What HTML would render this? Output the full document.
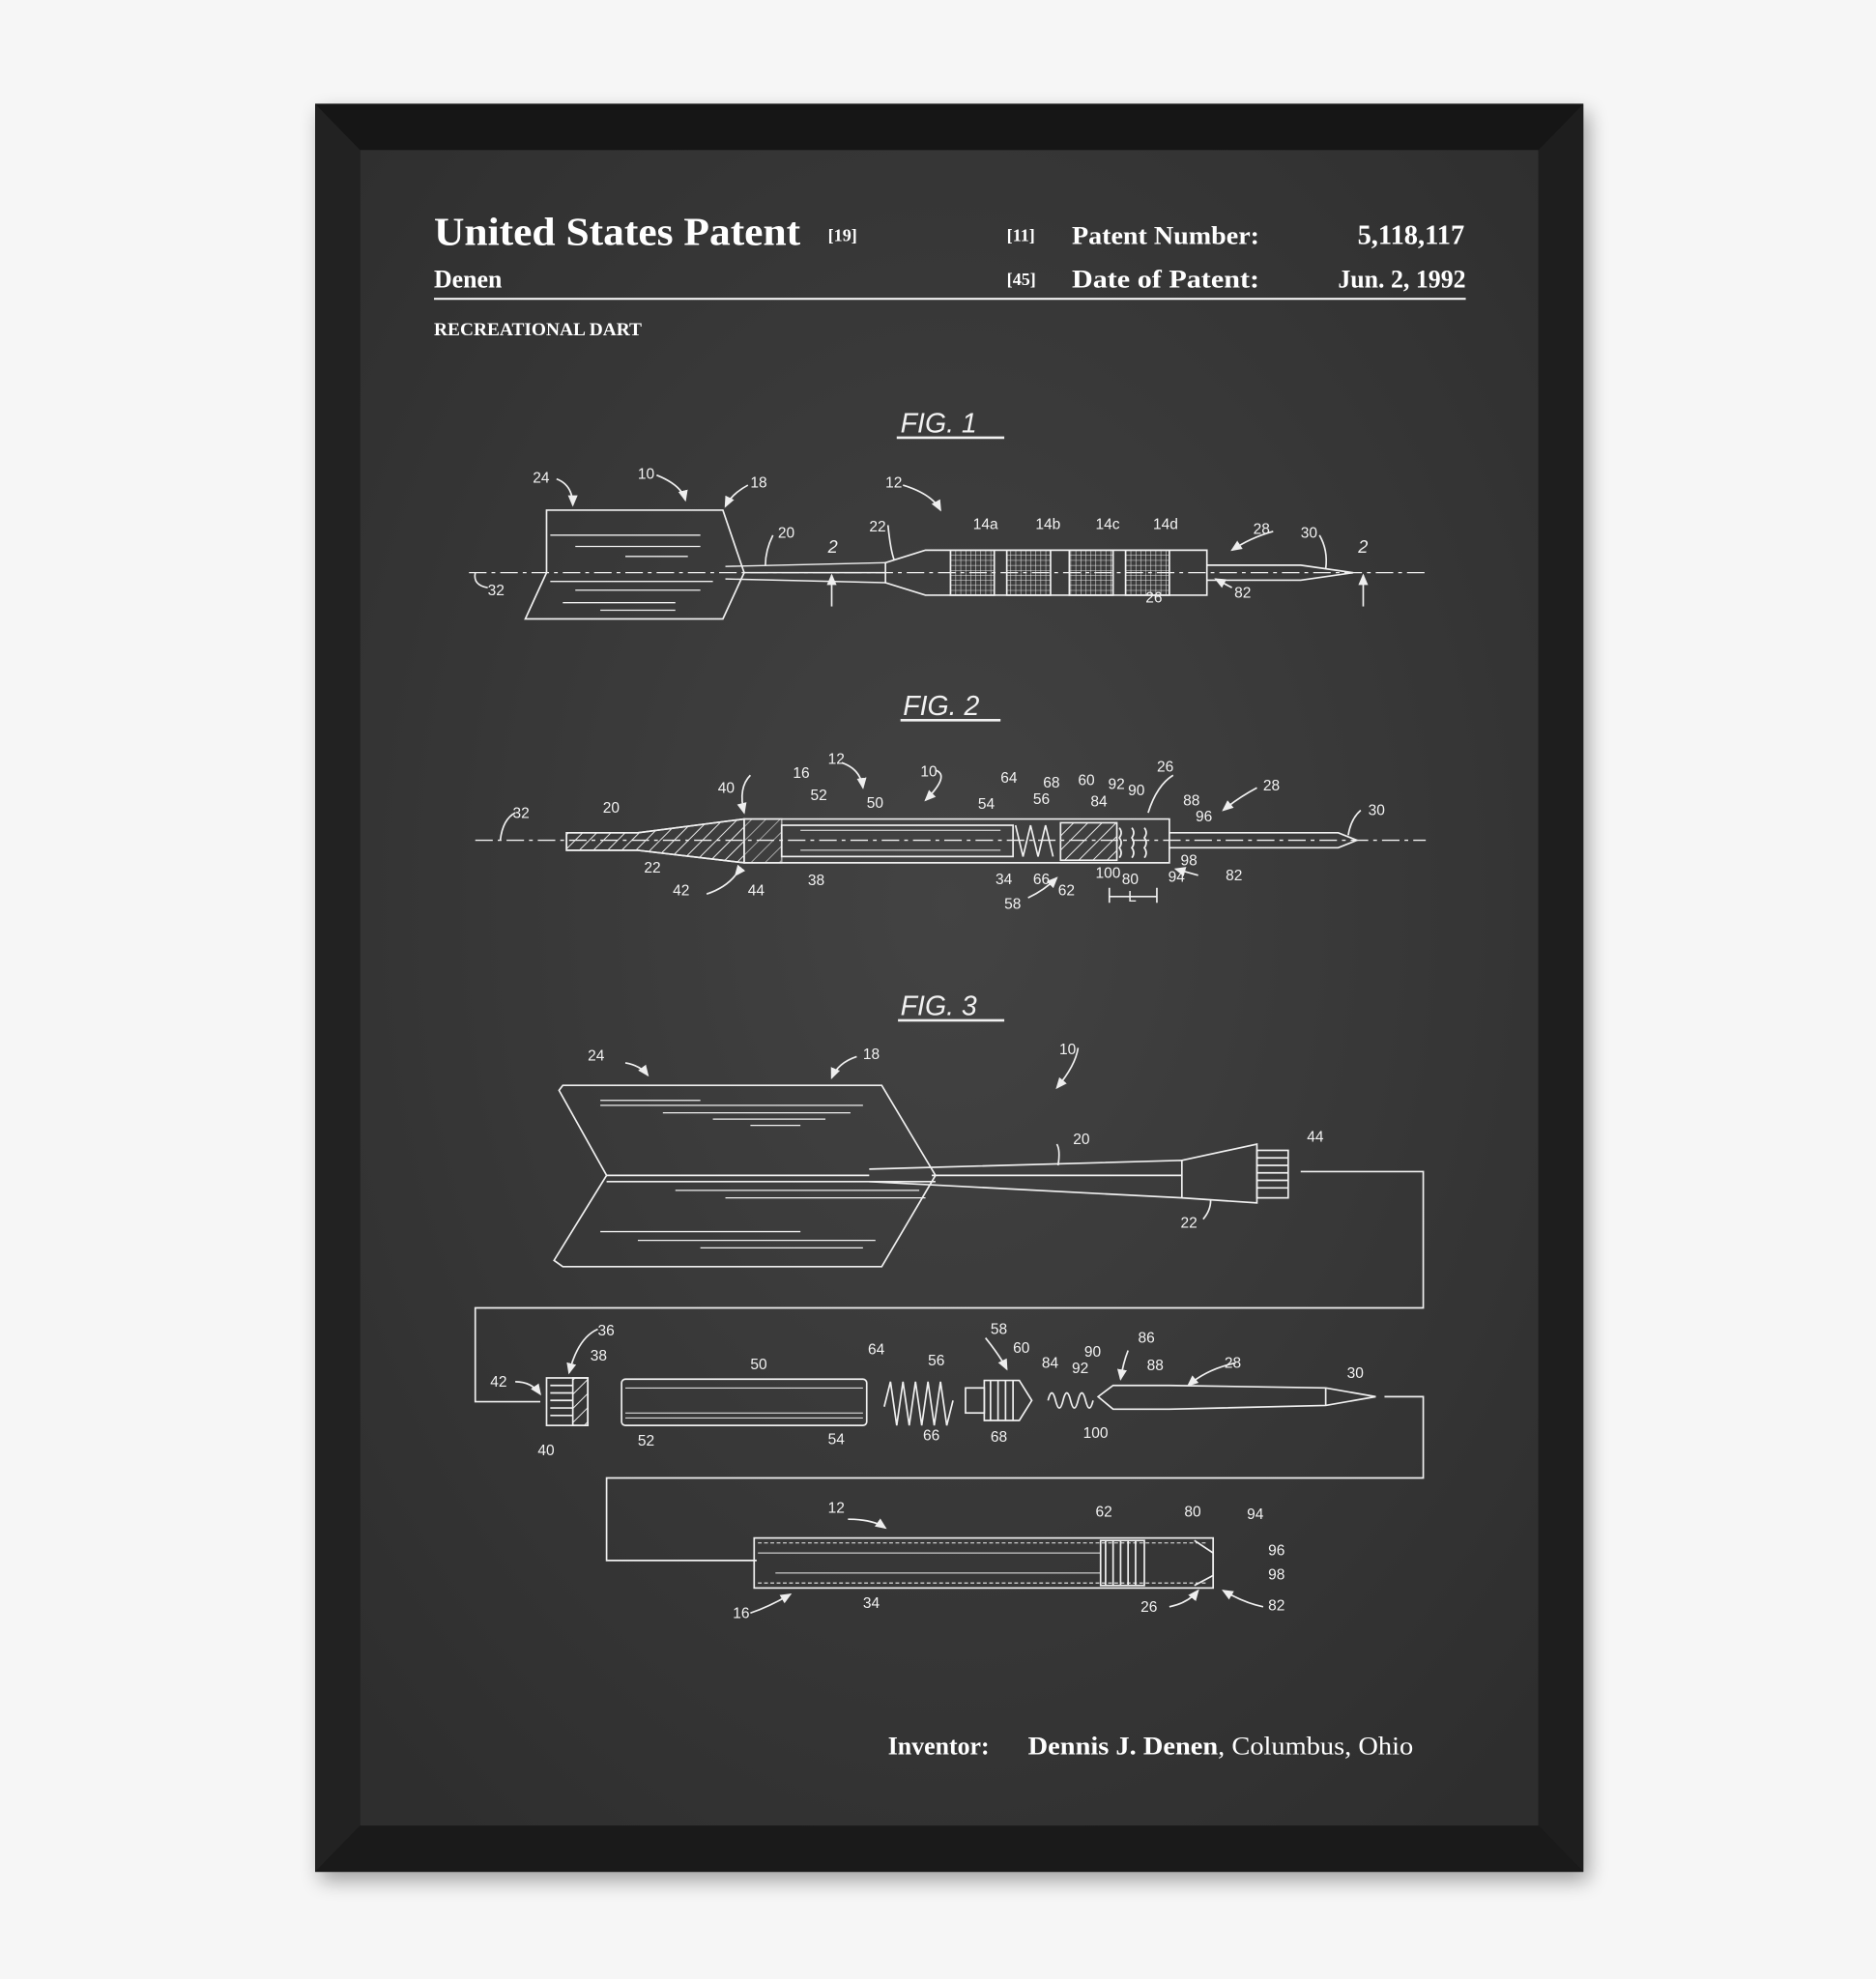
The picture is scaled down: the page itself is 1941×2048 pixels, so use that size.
<!DOCTYPE html>
<html><head><meta charset="utf-8"><style>
html,body{margin:0;padding:0;background:#f6f6f6;}
svg{display:block}
.t{font-family:"Liberation Serif",serif;fill:#fff;font-weight:bold}
.l{font-family:"Liberation Sans",sans-serif;fill:#f2f2f2;font-size:12px}
.f{font-family:"Liberation Sans",sans-serif;fill:#f2f2f2;font-size:22px;font-style:italic}
</style></head><body>
<svg width="1941" height="2048" viewBox="0 0 1500 1582.7" xmlns="http://www.w3.org/2000/svg">
<defs>
<radialGradient id="bg" cx="50%" cy="45%" r="70%"><stop offset="0" stop-color="#434343"/><stop offset="1" stop-color="#2e2e2e"/></radialGradient>
<filter id="sh" x="-10%" y="-10%" width="120%" height="120%"><feGaussianBlur stdDeviation="8"/></filter>
<marker id="ah" markerWidth="8" markerHeight="8" refX="6" refY="4" orient="auto"><path d="M0,1 L7,4 L0,7 Z" fill="#eee"/></marker>
<pattern id="hatch" width="8" height="8" patternUnits="userSpaceOnUse" patternTransform="rotate(45)"><line x1="0" y1="0" x2="0" y2="8" stroke="#eee" stroke-width="1.5"/></pattern>
<pattern id="grid" width="4" height="4" patternUnits="userSpaceOnUse"><path d="M0,0H4M0,0V4" stroke="#eee" stroke-width="0.8" fill="none"/></pattern>
</defs>
<rect x="0" y="0" width="1500" height="1583" fill="#f6f6f6"/>
<rect x="256" y="90" width="1014" height="1414" fill="#000" opacity="0.35" filter="url(#sh)"/>
<rect x="252" y="83" width="1014" height="1414" fill="#141414"/>
<polygon points="252,83 288,120 288,1460 252,1497" fill="#222"/>
<polygon points="1266,83 1230,120 1230,1460 1266,1497" fill="#1e1e1e"/>
<polygon points="252,83 1266,83 1230,120 288,120" fill="#161616"/>
<polygon points="252,1497 1266,1497 1230,1460 288,1460" fill="#1a1a1a"/>
<rect x="288" y="120" width="942" height="1340" fill="url(#bg)"/>

<text class="t" x="347" y="196" font-size="32" textLength="293" lengthAdjust="spacingAndGlyphs">United States Patent</text>
<text class="t" x="662" y="193" font-size="14" font-weight="normal">[19]</text>
<text class="t" x="805" y="193" font-size="14" font-weight="normal">[11]</text>
<text class="t" x="857" y="195" font-size="20" textLength="150" lengthAdjust="spacingAndGlyphs">Patent Number:</text>
<text class="t" x="1171" y="195" font-size="22" text-anchor="end">5,118,117</text>
<text class="t" x="347" y="230" font-size="20">Denen</text>
<text class="t" x="805" y="228" font-size="14" font-weight="normal">[45]</text>
<text class="t" x="857" y="230" font-size="20" textLength="150" lengthAdjust="spacingAndGlyphs">Date of Patent:</text>
<text class="t" x="1172" y="230" font-size="20" text-anchor="end">Jun. 2, 1992</text>
<line x1="347" y1="239" x2="1172" y2="239" stroke="#fff" stroke-width="1.6"/>
<text class="t" x="347" y="268" font-size="15">RECREATIONAL DART</text>

<g stroke="#f0f0f0" fill="none" stroke-width="1.3">
<line x1="717" y1="350" x2="803" y2="350" stroke-width="2"/>
<line x1="375" y1="458" x2="1140" y2="458" stroke-dasharray="14,4,3,4" stroke-width="1"/>
<polygon points="437,408 578,408 595,458 578,495 420,495 437,458"/>
<path d="M440,428H560M460,437H560M500,445H550M440,465H570M460,472H560M450,482H540M480,488H540" stroke-width="1"/>
<path d="M580,453 L708,450 M580,463 L708,466 M595,458H708" stroke-width="1.1"/>
<path d="M708,450 L740,440 H965 V476 H740 L708,466 Z"/>
<rect x="760" y="440" width="35" height="36" fill="url(#grid)"/>
<rect x="805" y="440" width="35" height="36" fill="url(#grid)"/>
<rect x="855" y="440" width="35" height="36" fill="url(#grid)"/>
<rect x="900" y="440" width="35" height="36" fill="url(#grid)"/>
<path d="M965,452 H1040 L1082,458 L1040,464 H965"/>
<line x1="665" y1="485" x2="665" y2="460" marker-end="url(#ah)"/>
<line x1="1090" y1="485" x2="1090" y2="460" marker-end="url(#ah)"/>
<path d="M445,383 Q458,388 458,404" marker-end="url(#ah)"/>
<path d="M525,380 Q545,388 548,400" marker-end="url(#ah)"/>
<path d="M598,388 Q585,395 580,405" marker-end="url(#ah)"/>
<path d="M722,388 Q745,395 752,408" marker-end="url(#ah)"/>
<path d="M710,420 Q712,440 715,448"/>
<path d="M1018,425 Q1000,430 985,440" marker-end="url(#ah)"/>
<path d="M1055,428 Q1062,440 1060,455"/>
<path d="M985,470 L972,463" marker-end="url(#ah)"/>
<path d="M618,428 Q612,440 612,452"/>
<path d="M380,458 Q378,468 390,470"/>
<line x1="720" y1="576" x2="800" y2="576" stroke-width="2"/>
<line x1="380" y1="672" x2="1140" y2="672" stroke-dasharray="14,4,3,4" stroke-width="1"/>
<path d="M453,666 H510 L595,655 H935 V690 H595 L510,680 H453 Z" />
<path d="M453,666 H510 L595,655 V690 L510,680 H453 Z" fill="url(#hatch)"/>
<rect x="595" y="655" width="30" height="35" fill="url(#hatch)" opacity="0.6"/>
<rect x="625" y="660" width="185" height="25"/>
<path d="M640,664H800M640,680H800" stroke-width="0.8"/>
<path d="M812,660 l6,25 l6,-25 l6,25 l6,-25 l6,25" />
<rect x="848" y="658" width="45" height="30" fill="url(#hatch)"/>
<path d="M895,662 q3,4 0,8 q3,4 0,8 q3,4 0,8 M905,662 q3,4 0,8 q3,4 0,8 q3,4 0,8 M915,662 q3,4 0,8 q3,4 0,8 q3,4 0,8"/>
<path d="M935,666 H1070 L1085,672 L1070,678 H935"/>
<path d="M600,620 Q590,630 595,650" marker-end="url(#ah)"/>
<path d="M673,610 Q688,615 690,630" marker-end="url(#ah)"/>
<path d="M748,616 Q760,620 740,640" marker-end="url(#ah)"/>
<path d="M1005,630 Q990,638 978,648" marker-end="url(#ah)"/>
<path d="M1088,648 Q1080,655 1078,668"/>
<path d="M588,700 Q580,710 565,715" marker-start="url(#ah)"/>
<path d="M938,620 Q925,628 918,650"/>
<path d="M958,700 L940,695" marker-end="url(#ah)"/>
<path d="M822,718 Q835,712 845,702" marker-end="url(#ah)"/>
<path d="M887,717 H925 M887,710 V722 M925,710 V722"/>
<path d="M412,650 Q402,655 400,672"/>
<line x1="718" y1="816" x2="803" y2="816" stroke-width="2"/>
<polygon points="450,868 705,868 748,940 705,1013 450,1013 443,1008 485,940 447,872"/>
<path d="M480,880H560M480,884H690M530,890H680M570,895H660M600,900H640M490,945H720M540,952H735M580,958H740M480,985H640M510,992H700M560,998H690" stroke-width="1"/>
<path d="M485,940 H695 M485,945 L748,945"/>
<path d="M695,935 L945,928 V958 L695,945 M745,940 H945"/>
<path d="M945,928 L1005,915 V962 L945,958"/>
<rect x="1005" y="920" width="25" height="38"/>
<path d="M1005,926H1030M1005,932H1030M1005,938H1030M1005,944H1030M1005,950H1030"/>
<path d="M1040,937 H1138 V1046 H380 V1121 H432"/>
<path d="M1107,1117 H1138 V1182 H485 V1248 H605"/>
<rect x="437" y="1102" width="33" height="38"/>
<rect x="458" y="1102" width="12" height="38" fill="url(#hatch)"/>
<path d="M440,1108H458M440,1114H458M440,1120H458M440,1126H458M440,1132H458"/>
<rect x="497" y="1103" width="196" height="37" rx="3"/>
<path d="M500,1110H690M500,1130H690M500,1134H690" stroke-width="0.8"/>
<path d="M707,1125 l5,-20 l5,35 l5,-35 l5,35 l5,-35 l5,35 l5,-35 l5,35 l5,-35 l5,35 l5,-20"/>
<rect x="772" y="1110" width="15" height="20"/>
<path d="M787,1104 H815 L825,1120 L815,1136 H787 Z"/>
<path d="M792,1104V1136M798,1104V1136M804,1104V1136M810,1104V1136"/>
<path d="M838,1120 q3,-12 6,0 q3,12 6,0 q3,-12 6,0 q3,12 6,0 q3,-12 6,0 q3,12 6,0"/>
<path d="M878,1117 L890,1108 H935 L1060,1110 L1100,1117 L1060,1124 L935,1127 H890 Z"/>
<path d="M1060,1110V1124"/>
<rect x="603" y="1230" width="367" height="40"/>
<path d="M606,1234H965M606,1266H965" stroke-dasharray="3,2" stroke-width="0.8"/>
<path d="M606,1242H880M620,1258H880" stroke-width="0.8"/>
<rect x="880" y="1232" width="35" height="36" />
<path d="M884,1232V1268M890,1232V1268M896,1232V1268M902,1232V1268M908,1232V1268"/>
<path d="M955,1232 L970,1242 V1260 L955,1268"/>
<path d="M500,850 Q512,852 518,860" marker-end="url(#ah)"/>
<path d="M685,845 Q670,850 665,862" marker-end="url(#ah)"/>
<path d="M862,838 Q860,852 845,870" marker-end="url(#ah)"/>
<path d="M845,915 Q848,920 846,932"/>
<path d="M962,975 Q968,968 968,960"/>
<path d="M478,1063 Q462,1070 455,1098" marker-end="url(#ah)"/>
<path d="M412,1105 Q425,1105 432,1115" marker-end="url(#ah)"/>
<path d="M988,1090 Q965,1095 950,1108" marker-end="url(#ah)"/>
<path d="M678,1215 Q698,1215 708,1222" marker-end="url(#ah)"/>
<path d="M600,1290 Q615,1285 632,1275" marker-end="url(#ah)"/>
<path d="M935,1285 Q950,1282 958,1272" marker-end="url(#ah)"/>
<path d="M1010,1285 Q995,1282 978,1272" marker-end="url(#ah)"/>
<path d="M902,1080 Q898,1090 896,1103" marker-end="url(#ah)"/>
<path d="M788,1070 Q800,1085 805,1095" marker-end="url(#ah)"/>
</g>
<g class="l">
<text class="f" x="720" y="346">FIG. 1</text>
<text class="f" x="722" y="572">FIG. 2</text>
<text class="f" x="720" y="812">FIG. 3</text>
<text x="426" y="386">24</text><text x="510" y="383">10</text><text x="600" y="390">18</text>
<text x="622" y="430">20</text><text x="662" y="442" font-size="14" font-style="italic">2</text>
<text x="708" y="390">12</text><text x="695" y="425">22</text>
<text x="778" y="423">14a</text><text x="828" y="423">14b</text><text x="876" y="423">14c</text><text x="922" y="423">14d</text>
<text x="1002" y="427">28</text><text x="1040" y="430">30</text><text x="1086" y="442" font-size="14" font-style="italic">2</text>
<text x="390" y="476">32</text><text x="916" y="482">26</text><text x="987" y="478">82</text>
<text x="410" y="654">32</text><text x="482" y="650">20</text><text x="574" y="634">40</text><text x="634" y="622">16</text>
<text x="648" y="640">52</text><text x="662" y="611">12</text><text x="693" y="646">50</text><text x="736" y="621">10</text>
<text x="782" y="647">54</text><text x="800" y="626">64</text><text x="826" y="643">56</text><text x="834" y="630">68</text>
<text x="862" y="628">60</text><text x="872" y="645">84</text><text x="886" y="631">92</text><text x="925" y="617">26</text>
<text x="902" y="636">90</text><text x="946" y="644">88</text><text x="956" y="657">96</text><text x="1010" y="632">28</text>
<text x="1094" y="652">30</text><text x="515" y="698">22</text><text x="538" y="716">42</text><text x="598" y="716">44</text>
<text x="646" y="708">38</text><text x="796" y="707">34</text><text x="826" y="707">66</text><text x="876" y="702">100</text>
<text x="897" y="707">80</text><text x="934" y="705">94</text><text x="944" y="692">98</text><text x="980" y="704">82</text>
<text x="846" y="716">62</text><text x="803" y="727">58</text><text x="902" y="721">L</text>
<text x="470" y="848">24</text><text x="690" y="847">18</text><text x="847" y="843">10</text><text x="858" y="915">20</text>
<text x="1045" y="913">44</text><text x="944" y="982">22</text>
<text x="478" y="1068">36</text><text x="472" y="1088">38</text><text x="392" y="1109">42</text><text x="430" y="1164">40</text>
<text x="600" y="1095">50</text><text x="510" y="1156">52</text><text x="662" y="1155">54</text><text x="694" y="1083">64</text>
<text x="742" y="1092">56</text><text x="792" y="1067">58</text><text x="810" y="1082">60</text><text x="833" y="1094">84</text>
<text x="867" y="1085">90</text><text x="857" y="1098">92</text><text x="910" y="1074">86</text><text x="917" y="1096">88</text>
<text x="979" y="1094">28</text><text x="1077" y="1102">30</text><text x="738" y="1152">66</text><text x="792" y="1153">68</text>
<text x="866" y="1150">100</text><text x="662" y="1210">12</text><text x="876" y="1213">62</text><text x="947" y="1213">80</text>
<text x="997" y="1215">94</text><text x="1014" y="1244">96</text><text x="1014" y="1263">98</text><text x="1014" y="1288">82</text>
<text x="586" y="1294">16</text><text x="690" y="1286">34</text><text x="912" y="1289">26</text>
</g>
<text class="t" x="710" y="1403" font-size="20" font-weight="normal">Inventor:</text>
<text class="t" x="822" y="1403" font-size="20" textLength="308" lengthAdjust="spacingAndGlyphs">Dennis J. Denen<tspan font-weight="normal">, Columbus, Ohio</tspan></text>
</svg>
</body></html>
